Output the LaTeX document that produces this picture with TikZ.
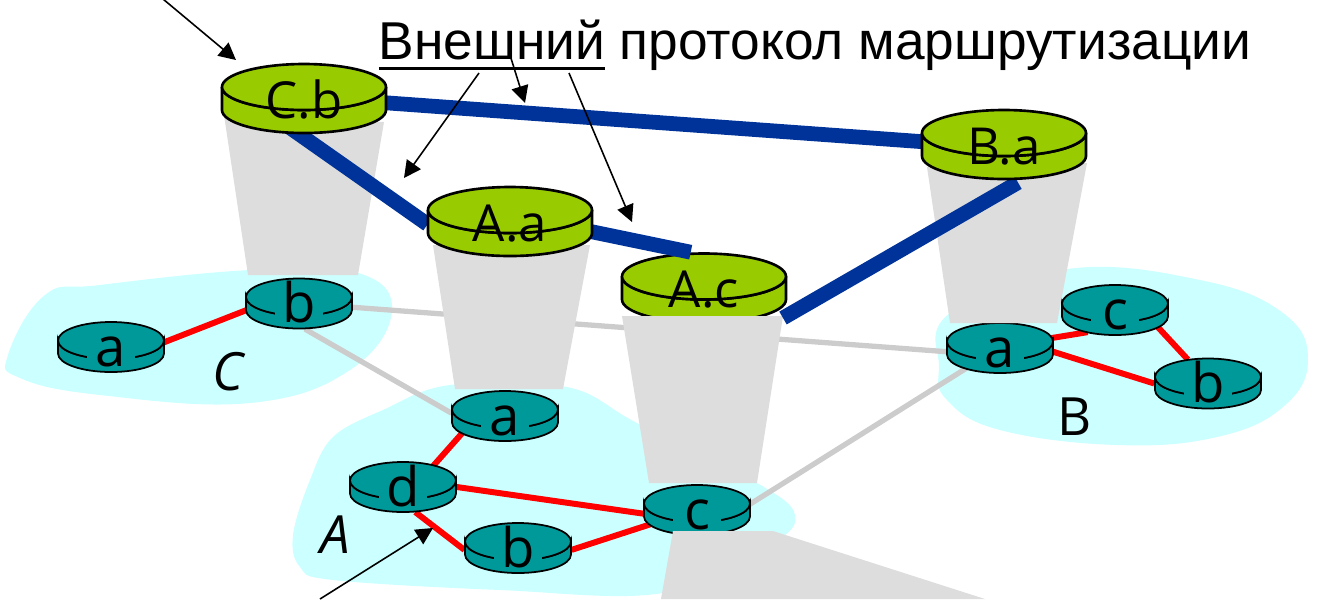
\documentclass[tikz,border=0pt]{standalone}
\usepackage{fontspec}
\setmainfont{Liberation Sans}
\newfontfamily\handfont{Open Sans}
\usetikzlibrary{arrows.meta,shapes.geometric}
\definecolor{gatecol}{HTML}{99CC00}
\definecolor{routercol}{HTML}{009999}
\definecolor{cloudcol}{HTML}{CCFFFF}
\definecolor{trapcol}{HTML}{DDDDDD}
\definecolor{wirecol}{HTML}{CCCCCC}
\definecolor{bluecol}{HTML}{003399}
\pgfdeclarelayer{clouds}\pgfdeclarelayer{wires}\pgfdeclarelayer{traps}\pgfdeclarelayer{tops}
\pgfsetlayers{clouds,wires,main,traps,tops}
\newcommand{\underword}[1]{\setbox0=\hbox{#1}\rlap{\rule[-0.11cm]{\wd0}{0.9pt}}\box0\relax}
% #1 name, #2 position (middle of the cylinder), #3 label
\newcommand{\gate}[3]{\begin{scope}[shift={(#2)}]
\draw[line width=0.75pt,fill=gatecol](-82,-11.5)--(-82,11.5)arc[start angle=180,end angle=0,x radius=82,y radius=23]--(82,-11.5)arc[start angle=0,end angle=180,x radius=82,y radius=23]--cycle;
\draw[line width=0.75pt,fill=gatecol](0,-11.5)ellipse[x radius=82,y radius=23];
\node[gatebox](#1)at(0,0){\smash{\raisebox{-0.195cm}{#3}}};
\end{scope}}
\newcommand{\router}[3]{\begin{scope}[shift={(#2)}]
\draw[line width=0.5pt,fill=routercol](-53,-6.5)--(-53,6.5)arc[start angle=180,end angle=0,x radius=53,y radius=18.5]--(53,-6.5)arc[start angle=0,end angle=180,x radius=53,y radius=18.5]--cycle;
\draw[line width=0.5pt,fill=routercol](0,-6.5)ellipse[x radius=53,y radius=18.5];
\fill[routercol](-24,7)rectangle(24,14);
\node[routerbox](#1)at(0,0){\smash{\raisebox{-0.19cm}{#3}}};
\end{scope}}
\begin{document}
\begin{tikzpicture}[x=0.01cm,y=-0.01cm,
gatebox/.style={ellipse,inner sep=0pt,minimum width=1.64cm,minimum height=0.69cm,font=\handfont\fontsize{14.5pt}{15pt}\selectfont},
routerbox/.style={ellipse,inner sep=0pt,minimum width=1.06cm,minimum height=0.5cm,font=\handfont\fontsize{15.5pt}{15pt}\selectfont},
red link/.style={line width=1.7pt,red},
gray link/.style={line width=1.5pt,wirecol},
blue link/.style={line width=4.2pt,bluecol},
pointer/.style={line width=0.45pt,-{Triangle[length=0.17cm,width=0.17cm]}}]
\useasboundingbox(0,0)rectangle(1317,599);
\begin{pgfonlayer}{clouds}
\fill[cloudcol]plot[smooth cycle,tension=0.7]coordinates{(8,355)(45,295)(100,285)(250,270)(355,272)(392,310)(350,370)(250,403)(100,395)(20,378)};
\fill[cloudcol]plot[smooth cycle,tension=0.6]coordinates{(293,535)(310,480)(333,437)(383,410)(450,385)(567,387)(637,423)(757,483)(795,515)(770,545)(663,593)(500,590)(333,580)(300,567)};
\fill[cloudcol]plot[smooth cycle,tension=0.7]coordinates{(950,313)(1067,269)(1200,280)(1283,313)(1308,360)(1283,407)(1217,437)(1117,445)(1000,430)(947,400)(939,367)};
\end{pgfonlayer}
\router{Ca}{111,347}{a}
\router{Cb}{299,303.5}{b}
\router{Aa}{505,416}{a}
\router{Ad}{403,487}{d}
\router{Ab}{518,548}{b}
\router{Ac}{697,510}{c}
\router{Ba}{1000,348}{a}
\router{Bc}{1115,310}{c}
\router{Bb}{1208,383.5}{b}
\gate{gwAc}{704,288}{A.c}
\begin{pgfonlayer}{tops}
\gate{gwCb}{304,98.5}{C.b}
\gate{gwAa}{510,221.5}{A.a}
\gate{gwBa}{1004,144.5}{B.a}
\node[font=\fontsize{15.15pt}{17pt}\selectfont](title)at(815,45){\underword{Внешний} протокол маршрутизации};
\coordinate(fromCb)at(163,-1);\coordinate(toCb)at(236,60);
\coordinate(from1)at(479,73);\coordinate(to1)at(404,178);
\coordinate(from2)at(510,55);\coordinate(to2)at(525,103);
\coordinate(from3)at(569,73);\coordinate(to3)at(632,222);
\coordinate(fromAd)at(320,599);\coordinate(toAd)at(433,528);
\draw[pointer](fromCb)--(toCb);
\draw[pointer](from1)--(to1);
\draw[pointer](from2)--(to2);
\draw[pointer](from3)--(to3);
\draw[pointer](fromAd)--(toAd);
\end{pgfonlayer}
\begin{pgfonlayer}{wires}
\draw[gray link](Cb.-77)--(Aa.177);
\draw[gray link](Cb.-4)--(Ba.184);
\draw[gray link](Ac.6)--(Ba.211);
\draw[red link](Ca.5)--(Cb.187);
\draw[red link](Aa.201)--(Ad.35);
\draw[red link](Ad.-64)--(Ab.182);
\draw[red link](Ad.0)--(Ac.184);
\draw[red link](Ab.-2)--(Ac.197);
\draw[red link](Ba.11)--(Bc.219);
\draw[red link](Ba.-4)--(Bb.180);
\draw[red link](Bc.-21)--(Bb.130);
\end{pgfonlayer}
\begin{pgfonlayer}{traps}
\fill[trapcol](224,115)--(384,122)--(358,275)--(248,275)--cycle;
\fill[trapcol](433,245)--(590,245)--(563,389)--(455,389)--cycle;
\fill[trapcol](622,316)--(783,316)--(757,483)--(649,483)--cycle;
\fill[trapcol](927,167)--(1087,163)--(1057,323)--(950,323)--cycle;
\fill[trapcol](673,531)--(773,531)--(985,599)--(661,599)--cycle;
\draw[blue link](gwCb.-3)--(gwBa.178);
\draw[blue link]([shift={(-20,25)}]gwCb.center)--(gwAa.182);
\draw[blue link,shorten >=0.04cm](gwAa.-7)--(gwAc.105);
\draw[blue link]([shift={(79,30)}]gwAc.center)--([shift={(14,38)}]gwBa.center);
\end{pgfonlayer}
\node[font=\handfont\itshape\fontsize{15pt}{15pt}\selectfont](labC)at(228,372){C};
\node[font=\handfont\itshape\fontsize{15pt}{15pt}\selectfont](labA)at(335,535){A};
\node[font=\handfont\fontsize{15pt}{15pt}\selectfont](labB)at(1075,417){B};
\end{tikzpicture}
\end{document}
